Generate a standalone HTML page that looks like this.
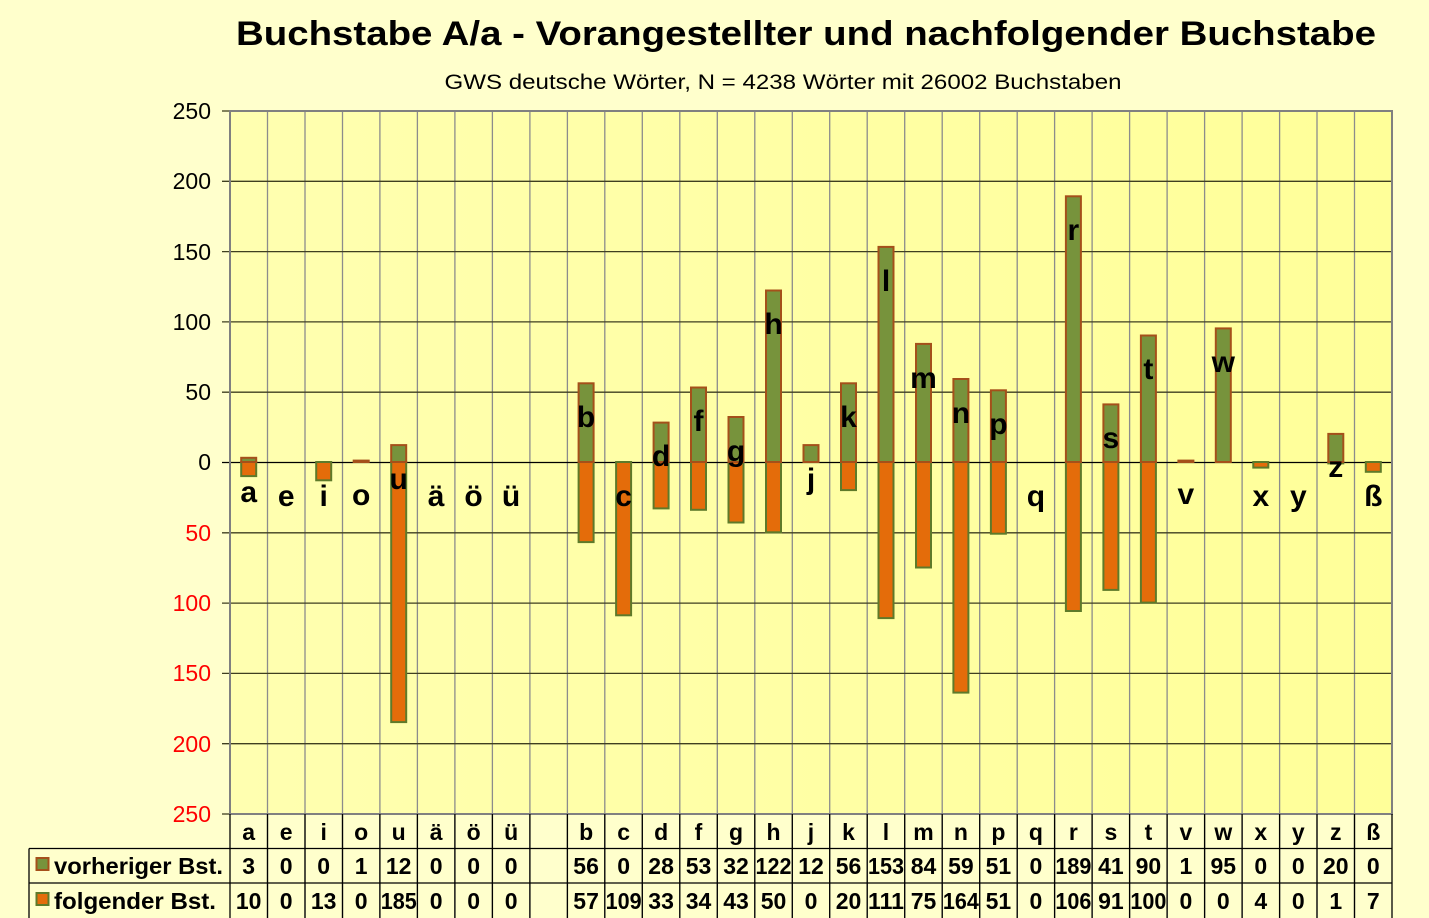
<!DOCTYPE html>
<html><head><meta charset="utf-8"><style>
html,body{margin:0;padding:0;background:#FFFFCC;}
svg{display:block;font-family:"Liberation Sans",Arial,sans-serif;}
</style></head><body>
<svg width="1429" height="918" viewBox="0 0 1429 918" xmlns="http://www.w3.org/2000/svg">
<defs>
<linearGradient id="bg" x1="0" y1="0" x2="1" y2="0">
<stop offset="0" stop-color="#FFFFB0"/><stop offset="1" stop-color="#FFFF99"/>
</linearGradient>
</defs>
<rect width="1429" height="918" fill="#FFFFCC"/>
<text x="806" y="45" font-size="34" font-weight="bold" text-anchor="middle" textLength="1140" lengthAdjust="spacingAndGlyphs">Buchstabe A/a - Vorangestellter und nachfolgender Buchstabe</text>
<text x="783" y="89" font-size="21" text-anchor="middle" textLength="677" lengthAdjust="spacingAndGlyphs">GWS deutsche Wörter, N = 4238 Wörter mit 26002 Buchstaben</text>
<rect x="230" y="111" width="1162" height="703" fill="url(#bg)"/>
<g stroke="#8C8C8C" stroke-width="1.3">
<line x1="267.5" y1="111" x2="267.5" y2="918"/><line x1="305" y1="111" x2="305" y2="918"/><line x1="342.5" y1="111" x2="342.5" y2="918"/><line x1="379.9" y1="111" x2="379.9" y2="918"/><line x1="417.4" y1="111" x2="417.4" y2="918"/><line x1="454.9" y1="111" x2="454.9" y2="918"/><line x1="492.4" y1="111" x2="492.4" y2="918"/><line x1="529.9" y1="111" x2="529.9" y2="918"/><line x1="567.4" y1="111" x2="567.4" y2="918"/><line x1="604.8" y1="111" x2="604.8" y2="918"/><line x1="642.3" y1="111" x2="642.3" y2="918"/><line x1="679.8" y1="111" x2="679.8" y2="918"/><line x1="717.3" y1="111" x2="717.3" y2="918"/><line x1="754.8" y1="111" x2="754.8" y2="918"/><line x1="792.3" y1="111" x2="792.3" y2="918"/><line x1="829.7" y1="111" x2="829.7" y2="918"/><line x1="867.2" y1="111" x2="867.2" y2="918"/><line x1="904.7" y1="111" x2="904.7" y2="918"/><line x1="942.2" y1="111" x2="942.2" y2="918"/><line x1="979.7" y1="111" x2="979.7" y2="918"/><line x1="1017.2" y1="111" x2="1017.2" y2="918"/><line x1="1054.6" y1="111" x2="1054.6" y2="918"/><line x1="1092.1" y1="111" x2="1092.1" y2="918"/><line x1="1129.6" y1="111" x2="1129.6" y2="918"/><line x1="1167.1" y1="111" x2="1167.1" y2="918"/><line x1="1204.6" y1="111" x2="1204.6" y2="918"/><line x1="1242.1" y1="111" x2="1242.1" y2="918"/><line x1="1279.6" y1="111" x2="1279.6" y2="918"/><line x1="1317" y1="111" x2="1317" y2="918"/><line x1="1354.5" y1="111" x2="1354.5" y2="918"/>
</g>
<g stroke="#3F3F20" stroke-width="1.3">
<line x1="222" y1="181.3" x2="1392" y2="181.3"/><line x1="222" y1="251.6" x2="1392" y2="251.6"/><line x1="222" y1="321.9" x2="1392" y2="321.9"/><line x1="222" y1="392.2" x2="1392" y2="392.2"/><line x1="222" y1="532.8" x2="1392" y2="532.8"/><line x1="222" y1="603.1" x2="1392" y2="603.1"/><line x1="222" y1="673.4" x2="1392" y2="673.4"/><line x1="222" y1="743.7" x2="1392" y2="743.7"/>
<line x1="222" y1="111" x2="230" y2="111"/><line x1="222" y1="814" x2="230" y2="814"/>
</g>
<line x1="222" y1="462.5" x2="1392" y2="462.5" stroke="#000" stroke-width="1.3"/>
<rect x="230" y="111" width="1162" height="703" fill="none" stroke="#808080" stroke-width="2"/>
<g font-size="23" text-anchor="end">
<text x="211" y="119">250</text><text x="211" y="189">200</text><text x="211" y="260">150</text><text x="211" y="330">100</text><text x="211" y="400">50</text><text x="211" y="470">0</text>
<g fill="#FF0000"><text x="211" y="541">50</text><text x="211" y="611">100</text><text x="211" y="681">150</text><text x="211" y="752">200</text><text x="211" y="822">250</text></g>
</g>
<g fill="#E46C0A" stroke="#5E7A2A" stroke-width="2">
<rect x="241.2" y="462" width="15" height="14.1"/>
<rect x="316.2" y="462" width="15" height="18.3"/>
<rect x="391.2" y="462" width="15" height="260.1"/>
<rect x="578.6" y="462" width="15" height="80.1"/>
<rect x="616.1" y="462" width="15" height="153.3"/>
<rect x="653.6" y="462" width="15" height="46.4"/>
<rect x="691" y="462" width="15" height="47.8"/>
<rect x="728.5" y="462" width="15" height="60.5"/>
<rect x="766" y="462" width="15" height="70.3"/>
<rect x="841" y="462" width="15" height="28.1"/>
<rect x="878.5" y="462" width="15" height="156.1"/>
<rect x="916" y="462" width="15" height="105.5"/>
<rect x="953.4" y="462" width="15" height="230.6"/>
<rect x="990.9" y="462" width="15" height="71.7"/>
<rect x="1065.9" y="462" width="15" height="149"/>
<rect x="1103.4" y="462" width="15" height="127.9"/>
<rect x="1140.9" y="462" width="15" height="140.6"/>
<rect x="1253.3" y="462" width="15" height="5.6"/>
<rect x="1328.3" y="462" width="15" height="1.4"/>
<rect x="1365.8" y="462" width="15" height="9.8"/>
</g>
<g fill="#77933C" stroke="#A5501A" stroke-width="2">
<rect x="241.2" y="457.8" width="15" height="4.2"/>
<rect x="353.7" y="460.6" width="15" height="1.4"/>
<rect x="391.2" y="445.1" width="15" height="16.9"/>
<rect x="578.6" y="383.3" width="15" height="78.7"/>
<rect x="653.6" y="422.6" width="15" height="39.4"/>
<rect x="691" y="387.5" width="15" height="74.5"/>
<rect x="728.5" y="417" width="15" height="45"/>
<rect x="766" y="290.5" width="15" height="171.5"/>
<rect x="803.5" y="445.1" width="15" height="16.9"/>
<rect x="841" y="383.3" width="15" height="78.7"/>
<rect x="878.5" y="246.9" width="15" height="215.1"/>
<rect x="916" y="343.9" width="15" height="118.1"/>
<rect x="953.4" y="379" width="15" height="83"/>
<rect x="990.9" y="390.3" width="15" height="71.7"/>
<rect x="1065.9" y="196.3" width="15" height="265.7"/>
<rect x="1103.4" y="404.4" width="15" height="57.6"/>
<rect x="1140.9" y="335.5" width="15" height="126.5"/>
<rect x="1178.4" y="460.6" width="15" height="1.4"/>
<rect x="1215.8" y="328.4" width="15" height="133.6"/>
<rect x="1328.3" y="433.9" width="15" height="28.1"/>
</g>
<g font-size="30" font-weight="bold" text-anchor="middle">
<text x="248.7" y="502">a</text><text x="286.2" y="506">e</text><text x="323.7" y="506">i</text><text x="361.2" y="505">o</text><text x="398.7" y="489">u</text><text x="436.1" y="506">ä</text><text x="473.6" y="506">ö</text><text x="511.1" y="506">ü</text>
<text x="586.1" y="427">b</text><text x="623.6" y="506">c</text><text x="661.1" y="466">d</text><text x="698.5" y="431">f</text><text x="736" y="461">g</text><text x="773.5" y="334">h</text><text x="811" y="489">j</text><text x="848.5" y="427">k</text><text x="886" y="291">l</text><text x="923.5" y="388">m</text><text x="960.9" y="423">n</text><text x="998.4" y="434">p</text><text x="1035.9" y="506">q</text><text x="1073.4" y="240">r</text><text x="1110.9" y="448">s</text><text x="1148.4" y="379">t</text><text x="1185.9" y="504">v</text><text x="1223.3" y="372">w</text><text x="1260.8" y="506">x</text><text x="1298.3" y="506">y</text><text x="1335.8" y="477">z</text><text x="1373.3" y="506">ß</text>
</g>
<g stroke="#000" stroke-width="1.3" fill="none">
<line x1="230" y1="814" x2="230" y2="918"/>
<line x1="29" y1="848.5" x2="1392" y2="848.5"/>
<line x1="29" y1="883" x2="1392" y2="883"/>
<line x1="29" y1="848.5" x2="29" y2="918"/>
<line x1="1392" y1="814" x2="1392" y2="918"/>
</g>
<g stroke="#000" stroke-width="1.3">
<line x1="267.5" y1="814" x2="267.5" y2="918"/><line x1="305" y1="814" x2="305" y2="918"/><line x1="342.5" y1="814" x2="342.5" y2="918"/><line x1="379.9" y1="814" x2="379.9" y2="918"/><line x1="417.4" y1="814" x2="417.4" y2="918"/><line x1="454.9" y1="814" x2="454.9" y2="918"/><line x1="492.4" y1="814" x2="492.4" y2="918"/><line x1="529.9" y1="814" x2="529.9" y2="918"/><line x1="567.4" y1="814" x2="567.4" y2="918"/><line x1="604.8" y1="814" x2="604.8" y2="918"/><line x1="642.3" y1="814" x2="642.3" y2="918"/><line x1="679.8" y1="814" x2="679.8" y2="918"/><line x1="717.3" y1="814" x2="717.3" y2="918"/><line x1="754.8" y1="814" x2="754.8" y2="918"/><line x1="792.3" y1="814" x2="792.3" y2="918"/><line x1="829.7" y1="814" x2="829.7" y2="918"/><line x1="867.2" y1="814" x2="867.2" y2="918"/><line x1="904.7" y1="814" x2="904.7" y2="918"/><line x1="942.2" y1="814" x2="942.2" y2="918"/><line x1="979.7" y1="814" x2="979.7" y2="918"/><line x1="1017.2" y1="814" x2="1017.2" y2="918"/><line x1="1054.6" y1="814" x2="1054.6" y2="918"/><line x1="1092.1" y1="814" x2="1092.1" y2="918"/><line x1="1129.6" y1="814" x2="1129.6" y2="918"/><line x1="1167.1" y1="814" x2="1167.1" y2="918"/><line x1="1204.6" y1="814" x2="1204.6" y2="918"/><line x1="1242.1" y1="814" x2="1242.1" y2="918"/><line x1="1279.6" y1="814" x2="1279.6" y2="918"/><line x1="1317" y1="814" x2="1317" y2="918"/><line x1="1354.5" y1="814" x2="1354.5" y2="918"/>
</g>
<rect x="36.5" y="858" width="12" height="12" fill="#77933C" stroke="#A5501A" stroke-width="2"/>
<rect x="36.5" y="893" width="12" height="12" fill="#E46C0A" stroke="#5E7A2A" stroke-width="2"/>
<g font-size="23" font-weight="bold">
<text x="54" y="874" textLength="169" lengthAdjust="spacingAndGlyphs">vorheriger Bst.</text>
<text x="54" y="909" textLength="162" lengthAdjust="spacingAndGlyphs">folgender Bst.</text>
</g>
<g font-size="23" font-weight="bold" text-anchor="middle">
<g>
<text x="248.7" y="840">a</text><text x="286.2" y="840">e</text><text x="323.7" y="840">i</text><text x="361.2" y="840">o</text><text x="398.7" y="840">u</text><text x="436.1" y="840">ä</text><text x="473.6" y="840">ö</text><text x="511.1" y="840">ü</text><text x="586.1" y="840">b</text><text x="623.6" y="840">c</text><text x="661.1" y="840">d</text><text x="698.5" y="840">f</text><text x="736" y="840">g</text><text x="773.5" y="840">h</text><text x="811" y="840">j</text><text x="848.5" y="840">k</text><text x="886" y="840">l</text><text x="923.5" y="840">m</text><text x="960.9" y="840">n</text><text x="998.4" y="840">p</text><text x="1035.9" y="840">q</text><text x="1073.4" y="840">r</text><text x="1110.9" y="840">s</text><text x="1148.4" y="840">t</text><text x="1185.9" y="840">v</text><text x="1223.3" y="840">w</text><text x="1260.8" y="840">x</text><text x="1298.3" y="840">y</text><text x="1335.8" y="840">z</text><text x="1373.3" y="840">ß</text>
</g>
<g>
<text x="248.7" y="874">3</text><text x="286.2" y="874">0</text><text x="323.7" y="874">0</text><text x="361.2" y="874">1</text><text x="398.7" y="874">12</text><text x="436.1" y="874">0</text><text x="473.6" y="874">0</text><text x="511.1" y="874">0</text><text x="586.1" y="874">56</text><text x="623.6" y="874">0</text><text x="661.1" y="874">28</text><text x="698.5" y="874">53</text><text x="736" y="874">32</text><text x="773.5" y="874" textLength="36" lengthAdjust="spacingAndGlyphs">122</text><text x="811" y="874">12</text><text x="848.5" y="874">56</text><text x="886" y="874" textLength="36" lengthAdjust="spacingAndGlyphs">153</text><text x="923.5" y="874">84</text><text x="960.9" y="874">59</text><text x="998.4" y="874">51</text><text x="1035.9" y="874">0</text><text x="1073.4" y="874" textLength="36" lengthAdjust="spacingAndGlyphs">189</text><text x="1110.9" y="874">41</text><text x="1148.4" y="874">90</text><text x="1185.9" y="874">1</text><text x="1223.3" y="874">95</text><text x="1260.8" y="874">0</text><text x="1298.3" y="874">0</text><text x="1335.8" y="874">20</text><text x="1373.3" y="874">0</text>
</g>
<g>
<text x="248.7" y="909">10</text><text x="286.2" y="909">0</text><text x="323.7" y="909">13</text><text x="361.2" y="909">0</text><text x="398.7" y="909" textLength="36" lengthAdjust="spacingAndGlyphs">185</text><text x="436.1" y="909">0</text><text x="473.6" y="909">0</text><text x="511.1" y="909">0</text><text x="586.1" y="909">57</text><text x="623.6" y="909" textLength="36" lengthAdjust="spacingAndGlyphs">109</text><text x="661.1" y="909">33</text><text x="698.5" y="909">34</text><text x="736" y="909">43</text><text x="773.5" y="909">50</text><text x="811" y="909">0</text><text x="848.5" y="909">20</text><text x="886" y="909" textLength="36" lengthAdjust="spacingAndGlyphs">111</text><text x="923.5" y="909">75</text><text x="960.9" y="909" textLength="36" lengthAdjust="spacingAndGlyphs">164</text><text x="998.4" y="909">51</text><text x="1035.9" y="909">0</text><text x="1073.4" y="909" textLength="36" lengthAdjust="spacingAndGlyphs">106</text><text x="1110.9" y="909">91</text><text x="1148.4" y="909" textLength="36" lengthAdjust="spacingAndGlyphs">100</text><text x="1185.9" y="909">0</text><text x="1223.3" y="909">0</text><text x="1260.8" y="909">4</text><text x="1298.3" y="909">0</text><text x="1335.8" y="909">1</text><text x="1373.3" y="909">7</text>
</g>
</g>
</svg>
</body></html>
